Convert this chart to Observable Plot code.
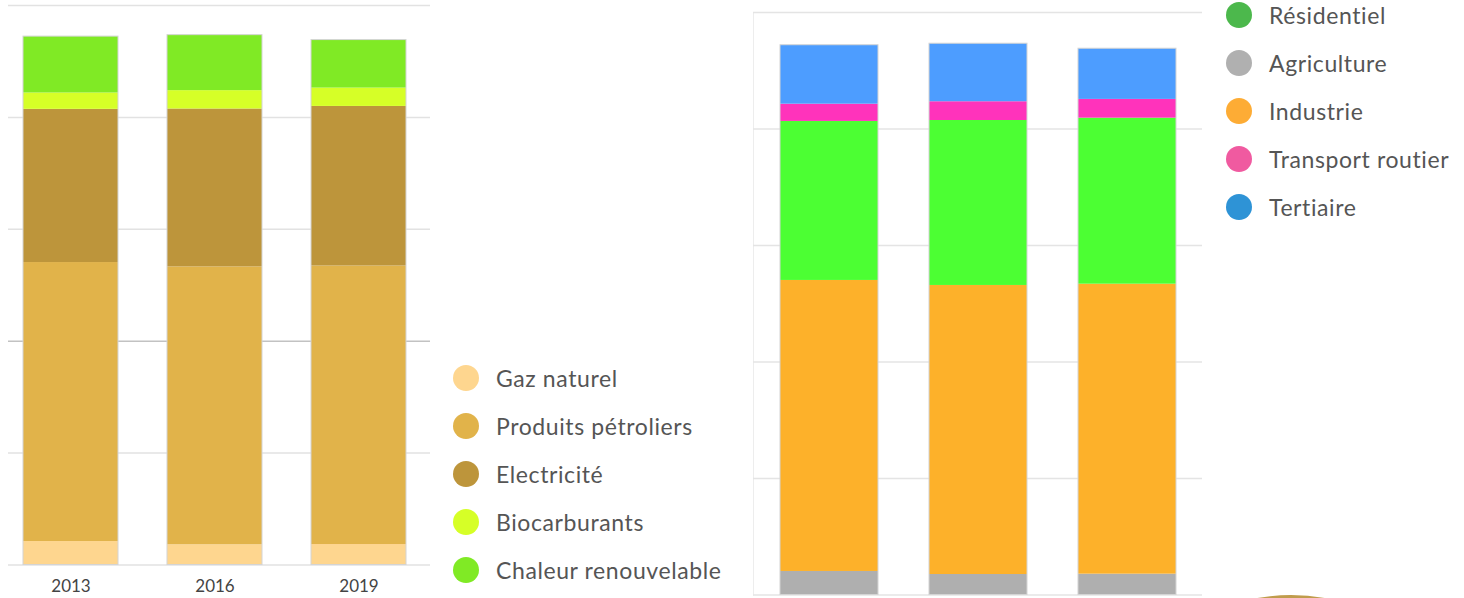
<!DOCTYPE html>
<html>
<head>
<meta charset="utf-8">
<script src="https://cdn.jsdelivr.net/npm/d3@7"></script>
<script src="https://cdn.jsdelivr.net/npm/@observablehq/plot@0.6"></script>
<style>
  html, body { margin: 0; padding: 0; background: #fff; width: 1464px; height: 598px; overflow: hidden; }
  body { position: relative; font-family: Lato, "Noto Sans", sans-serif; }
  #left { position: absolute; left: 0; top: 0; }
  #right { position: absolute; left: 740px; top: 0; }
  .legend { position: absolute; }
  .legend .item { height: 48px; display: flex; align-items: center; font-size: 23px; letter-spacing: 0.6px; color: #555; white-space: nowrap; }
  .legend .dot { width: 26px; height: 26px; border-radius: 50%; margin-right: 17px; flex: none; }
  #legLeft { left: 453px; top: 354px; }
  #legRight { left: 1226px; top: -9px; }
  #arc { position: absolute; left: 1101px; top: 595px; width: 380px; height: 380px; border-radius: 50%; background: #c09c4c; }
</style>
</head>
<body>
<div id="left"></div>
<div id="right"></div>
<div id="legLeft" class="legend"></div>
<div id="legRight" class="legend"></div>
<div id="arc"></div>
<script>
// ---- Data ----
const years = ["2013", "2016", "2019"];
const gridTicks = [0, 100, 300, 400, 500];
const darkTicks = [200];

// Left chart: by energy
const fuels = ["Gaz naturel", "Produits pétroliers", "Electricité", "Biocarburants", "Chaleur renouvelable"];
const fuelColors = ["#fed68f", "#e1b34a", "#bd953b", "#d6ff27", "#80ea25"];
const gazNaturel = [21.0, 18.1, 18.3];
const produitsPetroliers = [249.3, 248.3, 248.9];
const electricite = [136.9, 141.1, 142.6];
const biocarburants = [14.6, 16.4, 16.4];
const chaleurRenouvelable = [50.4, 49.6, 42.9];
const fuelSeries = [gazNaturel, produitsPetroliers, electricite, biocarburants, chaleurRenouvelable];

// Right chart: by sector (stack order bottom -> top)
const sectors = ["Agriculture", "Industrie", "Résidentiel", "Transport routier", "Tertiaire"];
const sectorBarColors = ["#afafaf", "#fdb12a", "#4cff33", "#ff33bb", "#4d9dff"];
const agriculture = [20.2, 17.6, 17.9];
const industrie = [249.8, 248.1, 248.9];
const residentiel = [136.5, 141.6, 142.5];
const transportRoutier = [14.8, 16.1, 16.1];
const tertiaire = [50.6, 49.8, 43.5];
const sectorSeries = [agriculture, industrie, residentiel, transportRoutier, tertiaire];

// Right legend (own order and colours)
const sectorLegend = ["Résidentiel", "Agriculture", "Industrie", "Transport routier", "Tertiaire"];
const sectorLegendColors = ["#4cb84c", "#b0b0b0", "#fdac35", "#f05aa0", "#2e93d6"];

// ---- Tables ----
const leftData = fuels.flatMap((f, i) => years.map((y, j) => ({year: y, cat: f, value: fuelSeries[i][j]})));
const rightData = sectors.flatMap((s, i) => years.map((y, j) => ({year: y, cat: s, value: sectorSeries[i][j]})));
const leftTotals = years.map((y, j) => ({year: y, value: d3.sum(fuelSeries, s => s[j])}));
const rightTotals = years.map((y, j) => ({year: y, value: d3.sum(sectorSeries, s => s[j])}));

// ---- Left chart ----
const left = Plot.plot({
  width: 440, height: 598,
  marginTop: 5, marginBottom: 33.5, marginLeft: 8, marginRight: 10,
  x: {domain: years, range: [-2, 430], paddingInner: 0.343, paddingOuter: 0.1715},
  y: {domain: [0, 500], axis: null},
  color: {domain: fuels, range: fuelColors},
  style: {fontFamily: "Lato, 'Noto Sans', sans-serif", fontSize: "17px", color: "#444", background: "transparent", overflow: "visible"},
  marks: [
    Plot.ruleY(gridTicks, {stroke: "#e2e2e2", strokeWidth: 1.5}),
    Plot.ruleY(darkTicks, {stroke: "#c2c2c2", strokeWidth: 1.5}),
    Plot.barY(leftData, {x: "year", y: "value", fill: "cat", order: fuels}),
    Plot.barY(leftTotals, {x: "year", y: "value", fill: "none", stroke: "#d4d4d4", strokeWidth: 1}),
    Plot.axisX({tickSize: 0, tickPadding: 14.5, fontSize: 17, label: null})
  ]
});
document.getElementById("left").appendChild(left);

// ---- Right chart ----
const right = Plot.plot({
  width: 470, height: 598,
  marginTop: 12, marginBottom: 3.5, marginLeft: 13, marginRight: 8,
  x: {domain: years, paddingInner: 0.343, paddingOuter: 0.1715, axis: null},
  y: {domain: [0, 500], axis: null},
  color: {domain: sectors, range: sectorBarColors},
  style: {background: "transparent", overflow: "visible"},
  marks: [
    Plot.frame({anchor: "left", stroke: "#ededed"}),
    Plot.ruleY([0, 100, 200, 300, 400, 500], {stroke: "#e4e4e4", strokeWidth: 1.5}),
    Plot.barY(rightData, {x: "year", y: "value", fill: "cat", order: sectors}),
    Plot.barY(rightTotals, {x: "year", y: "value", fill: "none", stroke: "#d4d4d4", strokeWidth: 1})
  ]
});
document.getElementById("right").appendChild(right);

// ---- Legends ----
function legend(id, names, colors) {
  const el = document.getElementById(id);
  names.forEach((n, i) => {
    const item = document.createElement("div");
    item.className = "item";
    const dot = document.createElement("span");
    dot.className = "dot";
    dot.style.background = colors[i];
    const t = document.createElement("span");
    t.textContent = n;
    item.appendChild(dot);
    item.appendChild(t);
    el.appendChild(item);
  });
}
legend("legLeft", fuels, fuelColors);
legend("legRight", sectorLegend, sectorLegendColors);
</script>
</body>
</html>
